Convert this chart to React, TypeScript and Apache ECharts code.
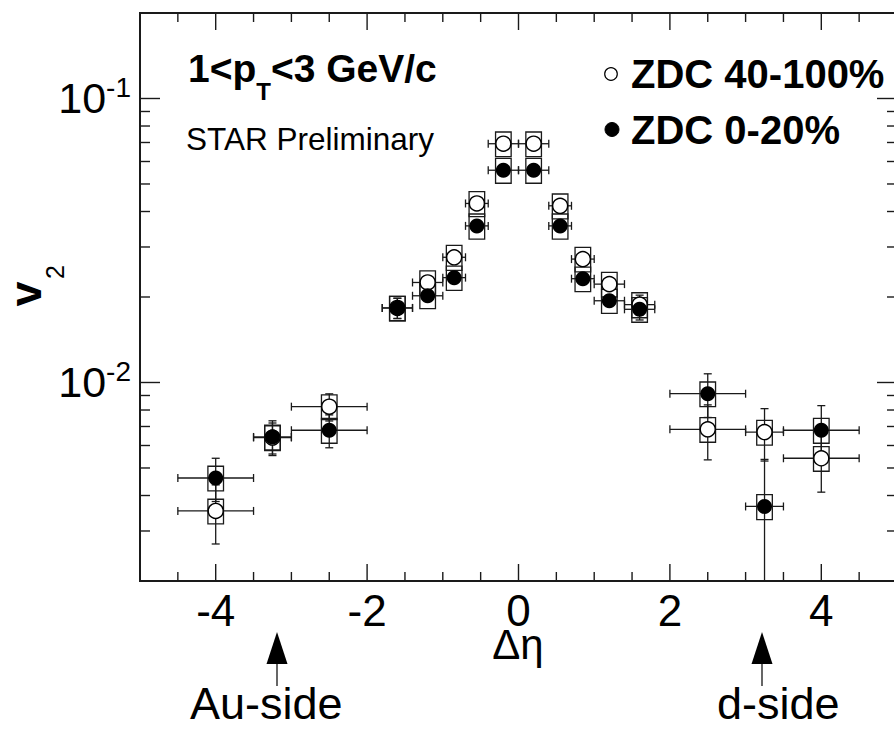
import React, { useEffect, useRef } from 'react';
import * as echarts from 'echarts';

// ---------------- data ----------------
const etaBins = [-4, -3.25, -2.5, -1.6, -1.2, -0.85, -0.55, -0.2, 0.2, 0.55, 0.85, 1.2, 1.6, 2.5, 3.25, 4];
const etaHalfWidth = [0.5, 0.25, 0.5, 0.2, 0.2, 0.15, 0.15, 0.2, 0.2, 0.15, 0.15, 0.2, 0.2, 0.5, 0.25, 0.5];

// ZDC 40-100% (open circles)
const v2Peripheral = [0.00353, 0.0064, 0.00822, 0.0183, 0.0225, 0.0276, 0.0427, 0.0693, 0.0693, 0.0419, 0.0272, 0.0222, 0.0188, 0.00684, 0.00669, 0.00541];
const statPeripheral = [0.00083, 0.0008, 0.0009, 0.0015, 0.0008, 0.0008, 0.0012, 0.0015, 0.0015, 0.0012, 0.0008, 0.0008, 0.0015, 0.0015, 0.0014, 0.0013];
const sysPeripheral = [0.00035, 0.00064, 0.00082, 0.0018, 0.0022, 0.0028, 0.0043, 0.0069, 0.0069, 0.0042, 0.0027, 0.0022, 0.0019, 0.00068, 0.00067, 0.00054];

// ZDC 0-20% (filled circles)
const v2Central = [0.00461, 0.00643, 0.00679, 0.0183, 0.0202, 0.0234, 0.0356, 0.0559, 0.0559, 0.0356, 0.0232, 0.0194, 0.0181, 0.00913, 0.00366, 0.00679];
const statCentralLow = [0.0008, 0.0009, 0.0009, 0.0015, 0.0007, 0.0008, 0.001, 0.0013, 0.0013, 0.001, 0.0008, 0.0007, 0.0015, 0.0016, 0.0019, 0.0015];
const statCentralHigh = [0.0008, 0.0009, 0.0009, 0.0015, 0.0007, 0.0008, 0.001, 0.0013, 0.0013, 0.001, 0.0008, 0.0007, 0.0015, 0.0016, 0.0017, 0.0015];
const sysCentral = [0.00046, 0.00064, 0.00068, 0.0018, 0.002, 0.0023, 0.0036, 0.0056, 0.0056, 0.0036, 0.0023, 0.0019, 0.0018, 0.00091, 0.00037, 0.00068];

// axis ticks
const X_MIN = -5;
const X_MAX = 5;
const Y_MIN = 0.002;
const Y_MAX = 0.2;
const xMajorTicks = [-4, -2, 0, 2, 4];
const xMinorTicks = [-4.5, -3.5, -3, -2.5, -1.5, -1, -0.5, 0.5, 1, 1.5, 2.5, 3, 3.5, 4.5];
const yMajorTicks = [0.01, 0.1];
const yMinorTicks = [0.003, 0.004, 0.005, 0.006, 0.007, 0.008, 0.009, 0.02, 0.03, 0.04, 0.05, 0.06, 0.07, 0.08, 0.09];

const F = 'Liberation Sans, Arial, Helvetica, sans-serif';
const INK = '#1a1a1a';

function renderErrors(_params: any, api: any) {
  const x = api.value(0);
  const y = api.value(1);
  const ex = api.value(2);
  const eyl = api.value(3);
  const eyh = api.value(4);
  const sys = api.value(5);
  const c = api.coord([x, y]);
  const xl = api.coord([x - ex, y])[0];
  const xr = api.coord([x + ex, y])[0];
  const yb = api.coord([x, y - eyl])[1];
  const yt = api.coord([x, y + eyh])[1];
  const sb = api.coord([x, y - sys])[1];
  const st = api.coord([x, y + sys])[1];
  const cap = 4;
  const bw = 7.8;
  const ls = { stroke: INK, lineWidth: 1.3 };
  return {
    type: 'group',
    children: [
      { type: 'rect', shape: { x: c[0] - bw, y: st, width: 2 * bw, height: sb - st }, style: { stroke: INK, lineWidth: 1.3, fill: 'none' } },
      { type: 'line', shape: { x1: xl, y1: c[1], x2: xr, y2: c[1] }, style: ls },
      { type: 'line', shape: { x1: xl, y1: c[1] - cap, x2: xl, y2: c[1] + cap }, style: ls },
      { type: 'line', shape: { x1: xr, y1: c[1] - cap, x2: xr, y2: c[1] + cap }, style: ls },
      { type: 'line', shape: { x1: c[0], y1: yt, x2: c[0], y2: yb }, style: ls },
      { type: 'line', shape: { x1: c[0] - cap, y1: yt, x2: c[0] + cap, y2: yt }, style: ls },
      { type: 'line', shape: { x1: c[0] - cap, y1: yb, x2: c[0] + cap, y2: yb }, style: ls },
    ],
  };
}

function renderTicks(_params: any, api: any) {
  const kind = api.value(2);
  const tl = api.coord([X_MIN, Y_MAX]);
  const br = api.coord([X_MAX, Y_MIN]);
  const ls = { stroke: INK, lineWidth: 1.4 };
  if (kind < 2) {
    const px = api.coord([api.value(0), Y_MIN])[0];
    const len = kind === 0 ? 17 : 9;
    return {
      type: 'group',
      children: [
        { type: 'line', shape: { x1: px, y1: br[1], x2: px, y2: br[1] - len }, style: ls },
        { type: 'line', shape: { x1: px, y1: tl[1], x2: px, y2: tl[1] + len }, style: ls },
      ],
    };
  }
  const v = api.value(1);
  const py = api.coord([X_MIN, v])[1];
  const len = kind === 2 ? 20 : 10;
  const children: any[] = [
    { type: 'line', shape: { x1: tl[0], y1: py, x2: tl[0] + len, y2: py }, style: ls },
    { type: 'line', shape: { x1: br[0], y1: py, x2: br[0] - len, y2: py }, style: ls },
  ];
  if (kind === 2) {
    const exp = Math.round(Math.log10(v));
    children.push({
      type: 'text',
      x: tl[0] - 9,
      y: py,
      style: {
        text: `{b|10}{s|${exp}}`,
        align: 'right',
        verticalAlign: 'middle',
        rich: {
          b: { fontSize: 43, fontFamily: F, fill: '#000', lineHeight: 50 },
          s: { fontSize: 28, fontFamily: F, fill: '#000', lineHeight: 28, verticalAlign: 'top' },
        },
      },
    });
  }
  return { type: 'group', children };
}

export default function App() {
  const ref = useRef<HTMLDivElement>(null);
  useEffect(() => {
    document.body.style.margin = '0';
    const chart = echarts.init(ref.current!, undefined, { renderer: 'svg' });

    const periph = etaBins.map((x, i) => [x, v2Peripheral[i], etaHalfWidth[i], statPeripheral[i], statPeripheral[i], sysPeripheral[i]]);
    const central = etaBins.map((x, i) => [x, v2Central[i], etaHalfWidth[i], statCentralLow[i], statCentralHigh[i], sysCentral[i]]);
    const tickData = [
      ...xMajorTicks.map((v) => [v, Y_MIN, 0]),
      ...xMinorTicks.map((v) => [v, Y_MIN, 1]),
      ...yMajorTicks.map((v) => [X_MIN, v, 2]),
      ...yMinorTicks.map((v) => [X_MIN, v, 3]),
    ];

    const option: any = {
      animation: false,
      backgroundColor: '#fff',
      grid: {
        left: 140,
        right: -3,
        top: 13,
        bottom: 148,
        show: true,
        borderColor: INK,
        borderWidth: 2,
        backgroundColor: 'transparent',
        containLabel: false,
        outerBoundsMode: 'none',
      },
      xAxis: {
        type: 'value',
        min: X_MIN,
        max: X_MAX,
        axisLine: { show: false },
        axisTick: { show: false },
        splitLine: { show: false },
        axisLabel: {
          customValues: xMajorTicks,
          fontSize: 44,
          fontFamily: F,
          color: '#000',
          margin: 7,
        },
      },
      yAxis: {
        type: 'log',
        logBase: 10,
        min: Y_MIN,
        max: Y_MAX,
        axisLine: { show: false },
        axisTick: { show: false },
        splitLine: { show: false },
        axisLabel: { show: false },
      },
      series: [
        { type: 'custom', name: 'ZDC 40-100% errors', renderItem: renderErrors, data: periph, clip: true, silent: true },
        {
          type: 'scatter',
          name: 'ZDC 40-100%',
          data: periph.map((d) => [d[0], d[1]]),
          symbol: 'circle',
          symbolSize: 15,
          itemStyle: { color: '#fff', borderColor: '#000', borderWidth: 1.4, opacity: 1 },
          silent: true,
        },
        { type: 'custom', name: 'ZDC 0-20% errors', renderItem: renderErrors, data: central, clip: true, silent: true },
        {
          type: 'scatter',
          name: 'ZDC 0-20%',
          data: central.map((d) => [d[0], d[1]]),
          symbol: 'circle',
          symbolSize: 15,
          itemStyle: { color: '#000', borderColor: '#000', borderWidth: 0, opacity: 1 },
          silent: true,
        },
        { type: 'custom', name: 'ticks', renderItem: renderTicks, data: tickData, clip: false, silent: true, z: 5 },
      ],
      graphic: [
        {
          type: 'text',
          x: 188,
          y: 68.5,
          style: {
            text: '{a|1<p}{s|T}{a|<3 GeV/c}',
            align: 'left',
            verticalAlign: 'middle',
            rich: {
              a: { fontSize: 39, fontWeight: 'bold', fontFamily: F, fill: '#000', lineHeight: 69 },
              s: { fontSize: 24, fontWeight: 'bold', fontFamily: F, fill: '#000', lineHeight: 24, verticalAlign: 'bottom' },
            },
          },
        },
        {
          type: 'text',
          x: 186,
          y: 139,
          style: { text: 'STAR Preliminary', fontSize: 31.5, fontFamily: F, fill: '#000', align: 'left', verticalAlign: 'middle' },
        },
        { type: 'circle', shape: { cx: 611, cy: 74, r: 6.3 }, style: { fill: '#fff', stroke: '#000', lineWidth: 1.2 } },
        {
          type: 'text',
          x: 631,
          y: 74,
          style: { text: 'ZDC 40-100%', fontSize: 40, fontWeight: 'bold', fontFamily: F, fill: '#000', align: 'left', verticalAlign: 'middle' },
        },
        { type: 'circle', shape: { cx: 612, cy: 129.5, r: 7 }, style: { fill: '#000', stroke: '#000', lineWidth: 1 } },
        {
          type: 'text',
          x: 631,
          y: 129.5,
          style: { text: 'ZDC 0-20%', fontSize: 40, fontWeight: 'bold', fontFamily: F, fill: '#000', align: 'left', verticalAlign: 'middle' },
        },
        // y-axis title v_2 (rotated)
        {
          type: 'text',
          x: 25.5,
          y: 294,
          rotation: Math.PI / 2,
          style: { text: 'v', fontSize: 45, fontWeight: 'bold', fontFamily: F, fill: '#000', align: 'center', verticalAlign: 'middle' },
        },
        {
          type: 'text',
          x: 55,
          y: 272,
          rotation: Math.PI / 2,
          style: { text: '2', fontSize: 25, fontFamily: F, fill: '#000', align: 'center', verticalAlign: 'middle' },
        },
        {
          type: 'text',
          x: 518,
          y: 644,
          style: { text: 'Δη', fontSize: 42, fontFamily: F, fill: '#000', align: 'center', verticalAlign: 'middle' },
        },
        { type: 'polygon', shape: { points: [[277, 632], [266.5, 664], [287.5, 664]] }, style: { fill: '#000' } },
        { type: 'line', shape: { x1: 277, y1: 664, x2: 277, y2: 686 }, style: { stroke: '#000', lineWidth: 1.2 } },
        { type: 'polygon', shape: { points: [[762, 632], [751.5, 664], [772.5, 664]] }, style: { fill: '#000' } },
        { type: 'line', shape: { x1: 762, y1: 664, x2: 762, y2: 686 }, style: { stroke: '#000', lineWidth: 1.2 } },
        {
          type: 'text',
          x: 190,
          y: 703.5,
          style: { text: 'Au-side', fontSize: 45, fontFamily: F, fill: '#000', align: 'left', verticalAlign: 'middle' },
        },
        {
          type: 'text',
          x: 717,
          y: 703.5,
          style: { text: 'd-side', fontSize: 45, fontFamily: F, fill: '#000', align: 'left', verticalAlign: 'middle' },
        },
      ],
    };
    chart.setOption(option);
    return () => chart.dispose();
  }, []);
  return <div ref={ref} style={{ width: 894, height: 729 }} />;
}
